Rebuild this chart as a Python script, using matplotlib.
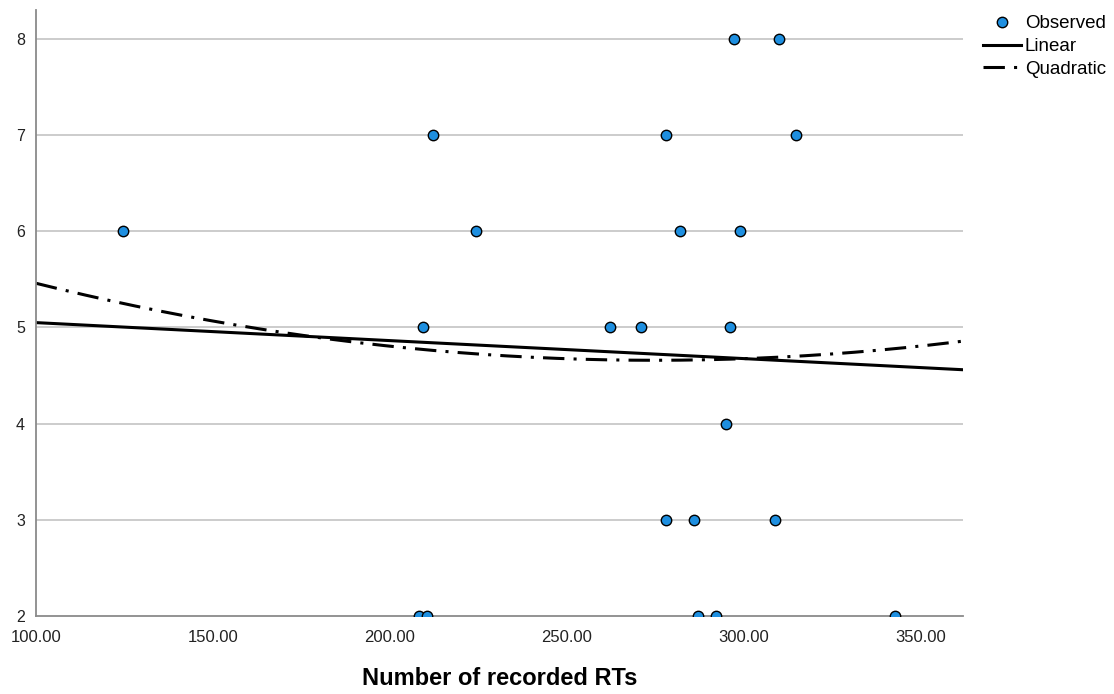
import matplotlib
matplotlib.use('Agg')
import matplotlib.pyplot as plt
import numpy as np

plt.rcParams['font.family'] = ['Liberation Sans', 'DejaVu Sans']

# observed points (number of recorded RTs, score)
rts = [297.2, 309.9,
       212.1, 278.0, 314.7,
       124.6, 224.3, 281.9, 298.9,
       209.3, 262.1, 270.9, 296.0,
       294.9,
       278.0, 285.9, 308.8,
       208.2, 210.5, 287.0, 292.1, 342.7]
score = [8, 8,
         7, 7, 7,
         6, 6, 6, 6,
         5, 5, 5, 5,
         4,
         3, 3, 3,
         2, 2, 2, 2, 2]

# fitted curve coefficients
lin_coef = [5.237, -0.00187]
quad_coef = [6.637, -0.01440, 2.62e-5]

xticks = [100, 150, 200, 250, 300, 350]
yticks = [2, 3, 4, 5, 6, 7, 8]

fig = plt.figure(figsize=(11.14, 6.94), dpi=100)
ax = fig.add_axes([0.0323, 0.1124, 0.8322, 0.8732])

xs = np.linspace(100, 362, 300)
lin = lin_coef[0] + lin_coef[1] * xs
quad = quad_coef[0] + quad_coef[1] * xs + quad_coef[2] * xs ** 2

for y in yticks[1:]:
    ax.axhline(y, color='#c8c8c8', linewidth=1.3, zorder=0)

ax.plot(xs, lin, color='black', linewidth=2.2, label='Linear', zorder=2)
ax.plot(xs, quad, color='black', linewidth=2.2,
        linestyle=(0, (7, 3, 1, 3)), label='Quadratic', zorder=2)
ax.plot(rts, score, linestyle='none', marker='o', markersize=7.5,
        markerfacecolor='#1e8fe0', markeredgecolor='black',
        markeredgewidth=1.0, label='Observed', zorder=3)

ax.set_xlim(100, 362)
ax.set_ylim(2, 8.3)
ax.set_xticks(xticks)
ax.set_xticklabels(['%.2f' % v for v in xticks])
ax.set_yticks(yticks)
ax.tick_params(length=0, colors='#222222')
ax.tick_params(axis='x', labelsize=12, pad=10)
ax.tick_params(axis='y', labelsize=11.5, pad=8)

for side in ['top', 'right']:
    ax.spines[side].set_visible(False)
for side in ['left', 'bottom']:
    ax.spines[side].set_color('#8a8a8a')
    ax.spines[side].set_linewidth(1.3)

ax.set_xlabel('Number of recorded RTs', fontsize=17, fontweight='bold',
              labelpad=16)

handles, labels = ax.get_legend_handles_labels()
order = [2, 0, 1]
fig.legend([handles[i] for i in order], [labels[i] for i in order],
           loc='upper left', bbox_to_anchor=(0.871, 0.997), frameon=False,
           fontsize=13.5, handlelength=2.0, handletextpad=0.2,
           labelspacing=0.3, borderpad=0.2)

fig.savefig('out.png', dpi=100)
